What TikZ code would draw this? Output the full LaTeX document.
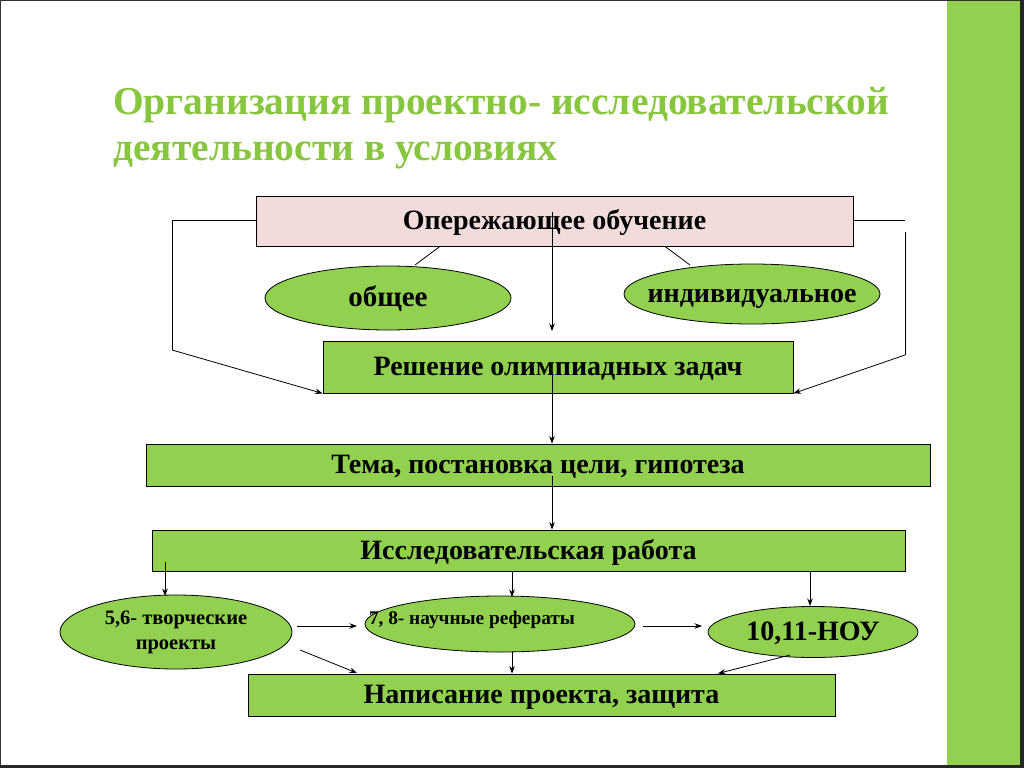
\documentclass[tikz,border=0pt]{standalone}
\usepackage{fontspec}
\setmainfont{Liberation Serif}
\usetikzlibrary{shapes.geometric,arrows.meta}
\definecolor{boxgreen}{RGB}{146,208,80}
\definecolor{titlegreen}{RGB}{137,198,64}
\definecolor{pinkbox}{RGB}{242,220,219}
\pgfdeclareradialshading{slidebg}{\pgfpoint{0bp}{0bp}}{color(0bp)=(white); color(38bp)=(white); color(72bp)=(black!13)}
\tikzset{
  rbox/.style={draw=black, line width=0.8pt, fill=boxgreen, inner sep=0pt, text height=17pt, text depth=0pt, font=\bfseries\fontsize{28}{30}\selectfont},
  ell/.style={draw=black, line width=0.8pt, fill=boxgreen, ellipse, inner sep=0pt, font=\bfseries},
  oneline/.style={text height=17pt, text depth=0pt},
  conn/.style={draw=black, line width=0.8pt},
  arr/.style={conn, -{Stealth[length=7.5pt,width=5.5pt]}},
}
\begin{document}
\begin{tikzpicture}[x=1pt,y=-1pt]
\useasboundingbox (0,0) rectangle (1024,768);
% background
\fill[white] (0,0) rectangle (1024,768);
\shade[shading=slidebg] (0,0) rectangle (947,768);
\fill[boxgreen] (947,0) rectangle (1020,768);
\draw[black!80, line width=1pt] (0.5,0.5) rectangle (1022,766);
\fill[black!85] (1020,0) rectangle (1024,768);
\fill[black!85] (0,765) rectangle (1024,768);
% title
\node[anchor=base west, text=titlegreen, font=\bfseries\fontsize{39.5}{41}\selectfont, inner sep=0pt] (t1) at (113,114) {Организация проектно- исследовательской};
\node[anchor=base west, text=titlegreen, font=\bfseries\fontsize{39.5}{41}\selectfont, inner sep=0pt] (t2) at (113,160) {деятельности в условиях};
% boxes
\node[rbox, fill=pinkbox, minimum width=597pt, minimum height=50pt] (op) at (554.5,221) {Опережающее обучение};
\node[ell, oneline, minimum width=246pt, minimum height=64pt, font=\bfseries\fontsize{29}{31}\selectfont] (ob) at (388,298) {\makebox[0pt]{общее}};
\node[ell, oneline, minimum width=256pt, minimum height=60pt, font=\bfseries\fontsize{28}{30}\selectfont] (ind) at (752,294) {\makebox[0pt]{индивидуальное}};
\node[rbox, minimum width=470pt, minimum height=52pt] (re) at (558,367) {Решение олимпиадных задач};
\node[rbox, minimum width=784pt, minimum height=42pt] (te) at (538,465) {Тема, постановка цели, гипотеза};
\node[rbox, minimum width=753pt, minimum height=41pt] (is) at (528.5,550.5) {Исследовательская работа};
\node[ell, minimum width=232pt, minimum height=74pt, align=center, font=\bfseries\fontsize{20.5}{25}\selectfont] (e1) at (176,632) {5,6- творческие\\проекты};
\node[ell, minimum width=270pt, minimum height=56pt] (e2) at (500,624) {};
\node[anchor=center, inner sep=0pt, text height=12pt, text depth=0pt, font=\bfseries\fontsize{19.3}{21}\selectfont] (e2t) at (472,618) {7, 8- научные рефераты};
\node[ell, oneline, minimum width=210pt, minimum height=51pt, font=\bfseries\fontsize{28}{30}\selectfont] (e3) at (813,632) {\makebox[0pt]{10,11-НОУ}};
\node[rbox, minimum width=587pt, minimum height=42pt] (na) at (541.5,695) {Написание проекта, защита};
% coordinates
\coordinate (l0) at (172,220);
\coordinate (l1) at (172,350);
\coordinate (r0) at (905,220);
\coordinate (r1) at (905,232);
\coordinate (r2) at (905,355);
% connectors top
\draw[conn] (op.west |- l0) -- (l0) -- (l1);
\draw[arr] (l1) -- (re.south west);
\draw[conn] (op.east |- r0) -- (r0);
\draw[conn] (r1) -- (r2);
\draw[arr] (r2) -- (re.south east);
\draw[conn] (op.south -| 440,0) -- (415,265);
\coordinate (c1) at (552,212);
\coordinate (c1e) at (552,331);
\draw[arr] (c1) -- (c1e);
\draw[conn] (op.south -| 665,0) -- (690,265);
\coordinate (c2) at (552,372);
\draw[arr] (c2) -- (te.north -| c2);
\coordinate (c3) at (552,476);
\draw[arr] (c3) -- (is.north -| c3);
% lower connectors
\coordinate (d1) at (165,562);
\draw[arr] (d1) -- (165,596);
\draw[arr] (is.south -| 512,0) -- (512,597);
\draw[arr] (is.south -| 810,0) -- (810,606);
\coordinate (h1) at (297,626);
\coordinate (h2) at (357,626);
\draw[arr] (h1) -- (h2);
\coordinate (h3) at (643,626);
\coordinate (h4) at (702,626);
\draw[arr] (h3) -- (h4);
\coordinate (g1) at (300,650);
\draw[arr] (g1) -- (357,673);
\draw[arr] (e2.south -| 512,0) -- (na.north -| 512,0);
\coordinate (g2) at (790,655);
\draw[arr] (g2) -- (718,673.5);
\end{tikzpicture}
\end{document}
